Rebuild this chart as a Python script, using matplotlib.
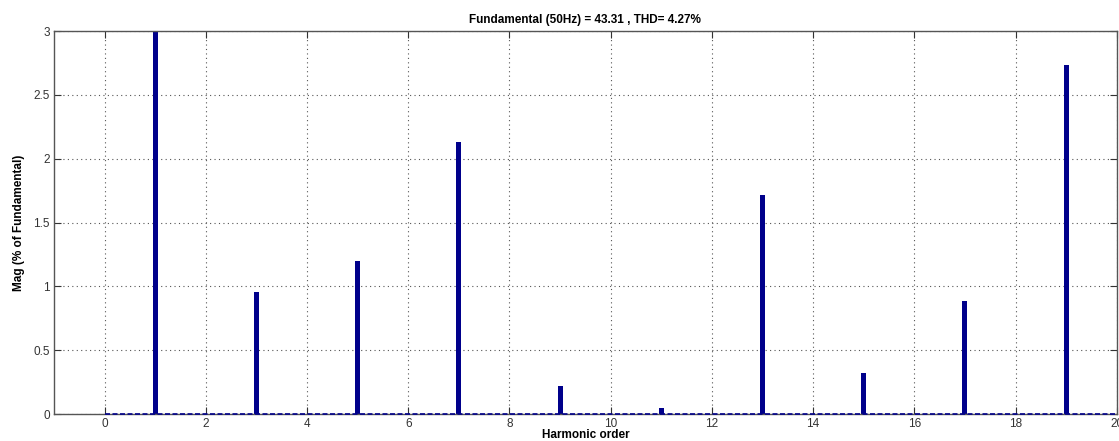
import matplotlib
matplotlib.use("Agg")
import matplotlib.pyplot as plt
import numpy as np

harmonic_order = list(range(0, 21))
magnitude = [0, 100, 0, 0.955, 0, 1.20, 0, 2.13, 0, 0.22, 0, 0.047, 0, 1.715, 0, 0.323, 0, 0.885, 0, 2.73, 0]
title_text = "Fundamental (50Hz) = 43.31 , THD= 4.27%"
xticks = list(range(0, 21, 2))
yticks = [0, 0.5, 1, 1.5, 2, 2.5, 3]
ytick_labels = ["0", "0.5", "1", "1.5", "2", "2.5", "3"]

plt.rcParams['font.family'] = ['Liberation Sans', 'DejaVu Sans']
fig = plt.figure(figsize=(11.19, 4.41), dpi=100)
ax = fig.add_axes([0.0483, 0.0612, 0.9497, 0.8685])

bar_color = '#00008B'
ax.bar(harmonic_order, magnitude, width=0.1, color=bar_color, zorder=3)
ax.plot([harmonic_order[0], harmonic_order[-1]], [0, 0], linestyle='--', color=bar_color,
        linewidth=1.2, dashes=(3, 1.5), zorder=5, clip_on=False)

ax.set_xlim(-1, 20)
ax.set_ylim(0, 3)
ax.set_xticks(xticks)
ax.set_yticks(yticks)
ax.set_yticklabels(ytick_labels)
ax.grid(True, linestyle=(0, (1, 3)), color='#555555', linewidth=0.8, zorder=0)
ax.tick_params(direction='in', top=True, right=True, length=5, labelsize=8.5,
               colors='#333333', labelcolor='#333333', pad=3)
for s in ax.spines.values():
    s.set_color('#555555')
    s.set_linewidth(1.0)
    s.set_zorder(4)

ax.set_title(title_text, fontsize=8.5, fontweight='bold', pad=6)
ax.set_xlabel("Harmonic order", fontsize=8.5, fontweight='bold', labelpad=-1)
ax.set_ylabel("Mag (% of Fundamental)", fontsize=8.5, fontweight='bold', labelpad=6)

fig.savefig("out.png", dpi=100)
